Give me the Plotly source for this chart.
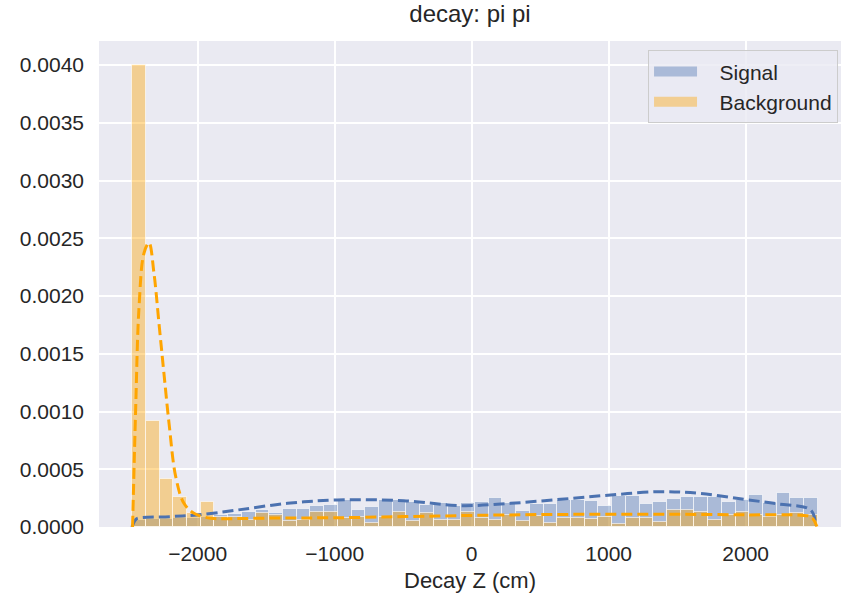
import numpy as np
import plotly.graph_objects as go

# ---- data ----
bin_edges = np.linspace(-2478, 2527, 51)
signal_density = [0.60, 0.70, 0.65, 0.80, 0.75, 0.90, 1.00, 1.10, 1.30, 1.45,
                  1.20, 1.60, 1.60, 1.80, 1.90, 2.35, 1.50, 1.70, 2.30, 2.35,
                  2.20, 1.90, 2.05, 1.80, 2.05, 2.20, 2.55, 2.05, 1.35, 1.95,
                  2.00, 2.35, 2.35, 2.25, 1.80, 2.65, 2.65, 2.00, 2.20, 2.40,
                  2.60, 2.60, 2.60, 2.20, 2.30, 2.80, 2.05, 2.95, 2.55, 2.55]
background_density = [40.0, 9.20, 4.15, 2.60, 1.20, 2.20, 0.90, 0.85, 0.60, 1.20,
                      1.05, 0.50, 0.60, 1.30, 1.30, 0.80, 0.90, 0.35, 0.90, 1.30,
                      0.50, 1.20, 0.60, 0.60, 1.30, 0.80, 0.60, 1.05, 0.50, 0.95,
                      0.35, 0.80, 0.80, 0.70, 0.90, 0.30, 0.80, 0.80, 0.40, 1.50,
                      1.50, 1.30, 0.60, 1.05, 1.30, 1.05, 0.90, 1.00, 1.25, 1.05]

signal_kde_x = [-2480, -2455, -2440, -2200, -2002, -1710, -1345, -980, -496, -80,
                285, 650, 1015, 1380, 1672, 1985, 2231, 2475, 2511]
signal_kde_y = [0.0, 0.60, 0.75, 0.90, 1.04, 1.47, 2.05, 2.34, 2.28, 1.85,
                2.05, 2.40, 2.77, 3.06, 2.90, 2.40, 2.00, 1.47, 0.10]
background_kde_x = [-2475, -2452, -2428, -2392, -2355, -2319, -2282, -2246, -2209,
                    -2160, -2100, -2027, -1905, -1800, -1400, -1000, -500, 0,
                    500, 1000, 1500, 2000, 2400, 2480, 2520]
background_kde_y = [0.0, 10.4, 19.0, 23.7, 24.6, 22.0, 17.6, 13.3, 9.0,
                    4.36, 2.05, 1.19, 0.75, 0.72, 0.78, 0.80, 0.90, 1.00,
                    1.08, 1.10, 1.10, 1.05, 1.02, 0.85, 0.05]

series_names = ["Signal", "Background"]
scale = 1e-4
x_ticks = [-2000, -1000, 0, 1000, 2000]
y_ticks = [0.0, 0.0005, 0.0010, 0.0015, 0.0020, 0.0025, 0.0030, 0.0035, 0.0040]

# ---- figure ----
centers = (bin_edges[:-1] + bin_edges[1:]) / 2
width = bin_edges[1] - bin_edges[0]
sig_col = "#4C72B0"
bkg_col = "#FFA500"
sig_fill = "rgba(76,114,176,0.4)"
bkg_fill = "rgba(255,165,0,0.4)"

fig = go.Figure()
fig.add_trace(go.Bar(x=centers, y=[v * scale for v in signal_density], width=width,
                     marker=dict(color=sig_fill,
                                 line=dict(color="rgba(255,255,255,0.6)", width=1)),
                     showlegend=False, name=series_names[0]))
fig.add_trace(go.Bar(x=centers, y=[v * scale for v in background_density], width=width,
                     marker=dict(color=bkg_fill,
                                 line=dict(color="rgba(255,255,255,0.6)", width=1)),
                     showlegend=False, name=series_names[1]))
fig.add_trace(go.Scatter(x=signal_kde_x, y=[v * scale for v in signal_kde_y], mode="lines",
                         line=dict(color=sig_col, width=3, dash="11px,5px", shape="spline"),
                         showlegend=False))
fig.add_trace(go.Scatter(x=background_kde_x, y=[v * scale for v in background_kde_y], mode="lines",
                         line=dict(color=bkg_col, width=3, dash="11px,5px", shape="spline"),
                         showlegend=False))
# legend patches
pad = "\u00a0\u00a0\u00a0"
fig.add_trace(go.Scatter(x=[None], y=[None], mode="lines", name=pad + series_names[0],
                         line=dict(color=sig_fill, width=14)))
fig.add_trace(go.Scatter(x=[None], y=[None], mode="lines", name=pad + series_names[1],
                         line=dict(color=bkg_fill, width=14)))

font = "Liberation Sans, Arial, sans-serif"
fig.update_layout(
    width=843, height=599,
    margin=dict(l=99, r=2, t=41, b=72),
    paper_bgcolor="white", plot_bgcolor="#EAEAF2",
    barmode="overlay", bargap=0,
    font=dict(family=font, size=21, color="#262626"),
    title=dict(text="decay: pi pi", x=0.5, xanchor="center", y=0.978, yanchor="middle",
               xref="paper", font=dict(size=24, color="#262626")),
    legend=dict(x=0.996, y=0.981, xanchor="right", yanchor="top",
                bgcolor="rgba(234,234,242,0.8)", bordercolor="#CCCCCC", borderwidth=1,
                font=dict(size=21), itemwidth=43, tracegroupgap=2),
    xaxis=dict(range=[-2720, 2696], tickvals=x_ticks, showgrid=True, gridcolor="white",
               gridwidth=1.5, zeroline=False, showline=False, ticks="",
               ticklabelstandoff=12, tickfont=dict(size=21),
               title=dict(text="Decay Z (cm)", font=dict(size=22), standoff=8)),
    yaxis=dict(range=[0, 0.004208], tickvals=y_ticks, tickformat=".4f", showgrid=True,
               gridcolor="white", gridwidth=1.5, zeroline=False, showline=False, ticks="",
               ticklabelstandoff=14, tickfont=dict(size=21)),
)

fig.write_html("out.html")
